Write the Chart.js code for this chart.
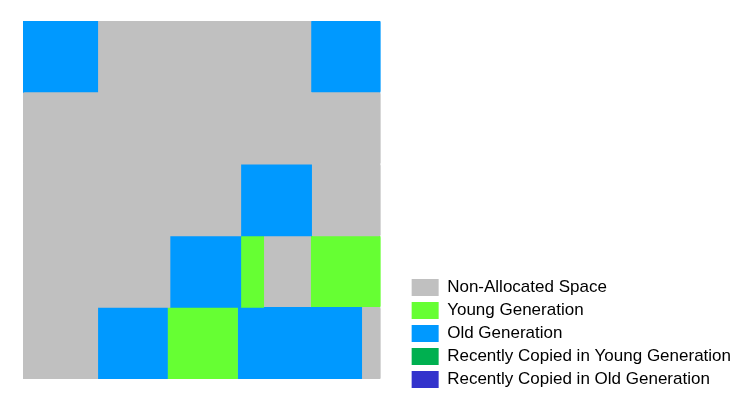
<!DOCTYPE html>
<html>
<head>
<meta charset="utf-8">
<script src="https://cdn.jsdelivr.net/npm/chart.js@4"></script>
<style>
  body { margin: 0; background: #fff; }
  #wrap { width: 747px; height: 411px; position: relative; }
</style>
</head>
<body>
<div id="wrap"><canvas id="chart"></canvas></div>
<script>
// heap rows, top to bottom
let rows = ['1', '2', '3', '4', '5'];

// region types shown in the legend
let kinds = ['Non-Allocated Space', 'Young Generation', 'Old Generation',
  'Recently Copied in Young Generation', 'Recently Copied in Old Generation'];
let kindColors = ['#c0c0c0', '#66ff33', '#0099ff', '#00b050', '#3333cc'];

// segment sizes (% of a row), left to right, one array per slot
let slot1 = [20.9, 100, 60.9, 41.1, 20.9];
let slot2 = [59.6, null, 19.8, 19.8, 19.5];
let slot3 = [19.5, null, 19.3, 6.4, 19.6];
let slot4 = [null, null, null, 13.1, 34.7];
let slot5 = [null, null, null, 19.6, 5.3];

// region type of each segment (index into kinds)
let slot1Kind = [2, 0, 0, 0, 0];
let slot2Kind = [0, 0, 2, 2, 2];
let slot3Kind = [2, 0, 0, 1, 1];
let slot4Kind = [0, 0, 0, 0, 2];
let slot5Kind = [0, 0, 0, 1, 0];

let slots = [
  [slot1, slot1Kind], [slot2, slot2Kind], [slot3, slot3Kind],
  [slot4, slot4Kind], [slot5, slot5Kind],
];

let datasets = slots.map(([sizes, kindIdx], i) => ({
  label: 'slot ' + (i + 1),
  data: sizes,
  backgroundColor: (ctx) => kindColors[kindIdx[ctx.dataIndex]],
  borderRadius: 2,
  borderSkipped: false,
  barPercentage: 1,
  categoryPercentage: 1,
}));

let hiddenAxis = {
  stacked: true,
  ticks: { display: false },
  grid: { display: false },
  border: { display: false },
};

new Chart(document.getElementById('chart'), {
  type: 'bar',
  data: { labels: rows, datasets: datasets },
  options: {
    indexAxis: 'y',
    responsive: true,
    maintainAspectRatio: false,
    animation: false,
    layout: { padding: { left: 23, top: 21, right: 6, bottom: 17 } },
    scales: {
      x: Object.assign({}, hiddenAxis, {
        min: 0, max: 100,
        afterFit: (s) => { s.height = 15; },
      }),
      y: Object.assign({}, hiddenAxis, {
        position: 'right',
        afterFit: (s) => { s.width = 25; },
      }),
    },
    plugins: {
      tooltip: { enabled: false },
      legend: {
        position: 'right',
        align: 'end',
        maxWidth: 400,
        onClick: () => {},
        labels: {
          boxWidth: 27,
          boxHeight: 17,
          padding: 6,
          color: '#000',
          font: { family: '"Liberation Sans", Arial, sans-serif', size: 17 },
          generateLabels: () => kinds.map((k, i) => ({
            text: k,
            fillStyle: kindColors[i],
            strokeStyle: kindColors[i],
            lineWidth: 0,
            hidden: false,
            datasetIndex: i,
          })),
        },
      },
    },
  },
});
</script>
</body>
</html>
